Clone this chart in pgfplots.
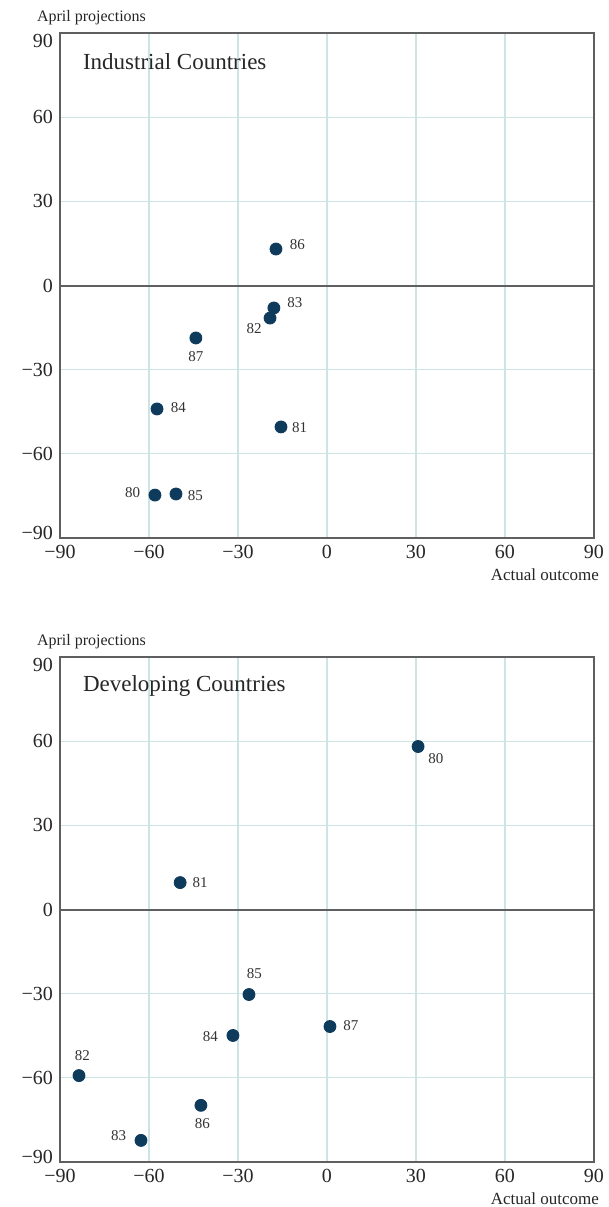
\documentclass[border=0pt]{standalone}
\usepackage{fontspec}
\setmainfont{Liberation Serif}
\usepackage{pgfplots}
\usepackage{pgfplotstable}
\pgfplotsset{compat=1.18}
\definecolor{dotblue}{RGB}{14,58,92}
\definecolor{gridc}{RGB}{205,228,228}
\definecolor{framec}{RGB}{95,95,95}

\pgfplotstableread{
x y lab dx dy
-17.2 13.0 86 10.7 2.1
-17.9 -8.0 83 10.5 2.7
-19.2 -11.6 82 -8.0 -5.5
-44.2 -18.7 87 0.0 -9.3
-57.3 -44.0 84 10.7 0.5
-15.5 -50.4 81 9.3 -0.5
-58.0 -74.7 80 -11.2 1.0
-50.9 -74.3 85 9.7 -0.7
}\industrial

\pgfplotstableread{
x y lab dx dy
30.7 58.1 80 8.9 -5.8
-49.5 9.6 81 10.0 0.0
-26.3 -30.3 85 2.7 10.7
-31.7 -44.9 84 -11.3 -0.7
1.0 -41.7 87 10.5 0.5
-83.6 -59.2 82 1.7 9.8
-42.5 -69.8 86 0.7 -9.2
-62.7 -82.3 83 -11.2 2.5
}\developing

\pgfplotsset{
  panel/.style={
    scale only axis,
    width=267pt, height=252.5pt,
    xmin=-90, xmax=90, ymin=-90, ymax=90,
    xtick={-90,-60,...,90}, ytick={-90,-60,...,90},
    xticklabels={−90,−60,−30,0,30,60,90},
    yticklabels={\raisebox{-0.6pt}[0pt][0pt]{−90},−60,−30,0,30,60,\raisebox{-7pt}[0pt][0pt]{90}},
    major tick length=0pt,
    grid=major,
    grid style={gridc, line width=0.6pt},
    axis line style={framec, line width=1pt},
    tick label style={font=\fontsize{10}{12}\selectfont, text=black!85},
    /pgf/number format/assume math mode=true,
    extra y ticks={0},
    extra y tick labels={},
    extra y tick style={grid style={framec, line width=1pt}},
    clip=false,
  },
  dots/.style={
    only marks, mark=*, mark size=3pt, color=dotblue,
    nodes near coords,
    point meta=explicit symbolic,
    visualization depends on={\thisrow{dx}\as\dx},
    visualization depends on={\thisrow{dy}\as\dy},
    every node near coord/.append style={anchor=center, inner sep=0pt,
      xshift=\dx pt, yshift=\dy pt, font=\fontsize{7.5}{9}\selectfont, text=black!80},
  },
}

\begin{document}
\begin{tikzpicture}
\useasboundingbox (-30pt,-334.5pt) rectangle (274.5pt,269pt);
\begin{axis}[panel, at={(0pt,0pt)}, anchor=south west]
  \addplot[dots] table[x=x, y=y, meta=lab] {\industrial};
  \node[anchor=west, font=\fontsize{11.5}{13}\selectfont, text=black!85] at (rel axis cs:0,1) [xshift=8pt, yshift=-14.5pt] {Industrial Countries};
  \node[anchor=west, font=\fontsize{8}{10}\selectfont, text=black!85] at (rel axis cs:0,1) [xshift=-15pt, yshift=7.5pt] {April projections};
  \node[anchor=east, font=\fontsize{8.5}{10}\selectfont, text=black!85] at (rel axis cs:1,0) [xshift=6pt, yshift=-18.5pt] {Actual outcome};
\end{axis}
\begin{axis}[panel, at={(0pt,-312pt)}, anchor=south west]
  \addplot[dots] table[x=x, y=y, meta=lab] {\developing};
  \node[anchor=west, font=\fontsize{11.5}{13}\selectfont, text=black!85] at (rel axis cs:0,1) [xshift=8pt, yshift=-14.5pt] {Developing Countries};
  \node[anchor=west, font=\fontsize{8}{10}\selectfont, text=black!85] at (rel axis cs:0,1) [xshift=-15pt, yshift=7.5pt] {April projections};
  \node[anchor=east, font=\fontsize{8.5}{10}\selectfont, text=black!85] at (rel axis cs:1,0) [xshift=6pt, yshift=-18.5pt] {Actual outcome};
\end{axis}
\end{tikzpicture}
\end{document}
